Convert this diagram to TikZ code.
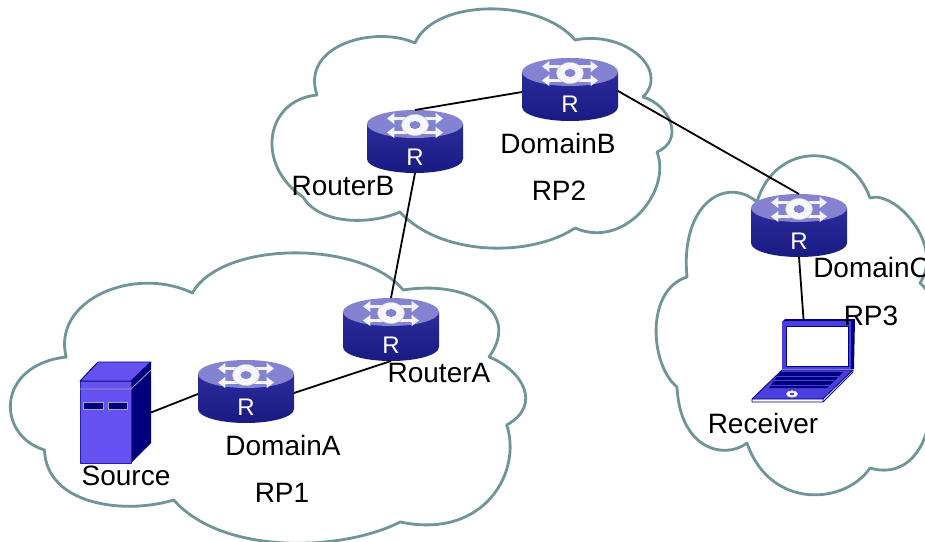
\documentclass[tikz,border=0pt]{standalone}
\usepackage{fontspec}
\setmainfont{Liberation Sans}
\usetikzlibrary{arrows.meta}
\definecolor{cloudc}{HTML}{6F9599}
\definecolor{rtop}{HTML}{8383D2}
\definecolor{rbodya}{HTML}{2C2C9C}
\definecolor{rbodyb}{HTML}{1A1A82}
\definecolor{srvf}{HTML}{6652F0}
\definecolor{srvd}{HTML}{00007E}
\definecolor{lapc}{HTML}{4A3EDC}
\tikzset{
  x=0.75pt,y=-0.75pt,
  cloudline/.style={draw=cloudc,line width=2.1pt,line join=round},
  link/.style={draw=black,line width=1.35pt},
  lbl/.style={inner sep=0pt,anchor=base,font=\fontsize{21}{24}\selectfont,text=black},
  boxnode/.style={inner sep=0pt,outer sep=0pt,minimum width=72pt,minimum height=47.25pt},
  rarrow/.style={draw=white!92!rtop,line width=1.8pt,{Triangle[length=5.5pt,width=8pt]}-{Triangle[length=5.5pt,width=8pt]}},
  edge1/.style={draw=srvd,line width=0.7pt,line join=round}
}
% name, x, top
\newcommand{\routerat}[3]{%
  \begin{scope}[shift={(#2,#3)}]
    \shade[top color=rbodya,bottom color=rbodyb] (-48,14) -- (-48,49)
       .. controls (-48,57) and (-26,63) .. (0,63)
       .. controls (26,63) and (48,57) .. (48,49) -- (48,14) -- cycle;
    \fill[rtop] (0,14) ellipse [x radius=48,y radius=14];
    \draw[rarrow] (-28,8.5) -- (28,8.5);
    \draw[rarrow] (-28,22.5) -- (28,22.5);
    \fill[white!94!rtop,draw=white!80!black,line width=0.4pt] (0,15) ellipse [x radius=13.5,y radius=10.5];
    \fill[rtop] (0,15) ellipse [x radius=5.5,y radius=4];
    \node[inner sep=0pt,anchor=base,text=white,font=\fontsize{18}{20}\selectfont] (#1-R) at (0,55) {R};
    \node[boxnode] (#1) at (0,31.5) {};
    \coordinate (#1-l) at (-48,34);
    \coordinate (#1-r) at (48,33);
  \end{scope}}
\begin{document}
\begin{tikzpicture}
\path[use as bounding box] (0,0) rectangle (925,542);
\clip (0,0) rectangle (925,542);
\fill[white] (0,0) rectangle (925,542);
% cloud 1
\begin{scope}[xscale=1.034]
\draw[cloudline] (186,293) .. controls (215,240) and (350,240) .. (390,290)
  .. controls (450,280) and (505,310) .. (473,357)
  .. controls (505,370) and (525,405) .. (490,425)
  .. controls (505,470) and (470,540) .. (387,522)
  .. controls (330,552) and (215,555) .. (168,500)
  .. controls (120,515) and (45,505) .. (43,450)
  .. controls (-4,435) and (-4,365) .. (64,357)
  .. controls (50,300) and (130,265) .. cycle;
\end{scope}
% cloud 2
\draw[cloudline] (415,43) .. controls (435,-2) and (540,-2) .. (575,40)
  .. controls (625,30) and (670,70) .. (643,97)
  .. controls (670,105) and (685,140) .. (657,152)
  .. controls (672,190) and (625,250) .. (575,228)
  .. controls (530,258) and (440,256) .. (400,212)
  .. controls (370,225) and (320,225) .. (303,197)
  .. controls (255,165) and (265,100) .. (317,95)
  .. controls (300,45) and (375,25) .. cycle;
% cloud 3
\draw[cloudline] (757,202) .. controls (775,141) and (850,141) .. (870,198)
  .. controls (895,190) and (945,245) .. (920,283)
  .. controls (940,300) and (950,350) .. (930,390)
  .. controls (935,440) and (910,480) .. (870,468)
  .. controls (845,505) and (770,510) .. (747,443)
  .. controls (725,460) and (680,450) .. (677,387)
  .. controls (650,365) and (645,290) .. (687,277)
  .. controls (680,205) and (725,175) .. cycle;
% placeholders for named devices
\node[inner sep=0pt,outer sep=0pt,minimum width=53.25pt,minimum height=75.75pt] (src) at (115.5,412.5) {};
\node[inner sep=0pt,outer sep=0pt,minimum width=77.25pt,minimum height=62.25pt] (lap) at (803.5,360.5) {};
% routers
\routerat{dA}{246}{360}
\routerat{rA}{391}{298}
\routerat{rB}{415}{110}
\routerat{dB}{570}{58}
\routerat{dC}{799}{194}
% connectors
\draw[link] (src.east) -- (dA-l);
\draw[link] (dA-r) -- (rA.south);
\draw[link] (rA.north) -- (rB.south);
\draw[link] (rB.north) -- (dB-l);
\draw[link] (dB-r) -- (dC.north);
\draw[link] (dC.south) -- (lap.north);
% server
\fill[srvf] (80,381) -- (98,362) -- (151,362) -- (131,381) -- cycle;
\draw[edge1] (80,381) -- (98,362) -- (151,362) -- (131,381) -- cycle;
\fill[srvd] (131,381) -- (151,362) -- (151,443) -- (131,463) -- cycle;
\fill[srvf] (80,381) rectangle (131,463);
\draw[edge1,draw=srvd!60!srvf] (80,381) rectangle (131,463);
\draw[gray!70,line width=0.6pt] (80,389) -- (131,389) -- (151,370);
\draw[fill=srvd,draw=gray!70,line width=0.5pt] (83,402) rectangle (103,409);
\draw[fill=srvd,draw=gray!70,line width=0.5pt] (108,402) rectangle (127,409);
% laptop
\fill[srvd] (782,322) -- (785,319) -- (855,319) -- (854,369) -- (782,369) -- cycle;
\fill[lapc] (782,322) -- (785,321) -- (851,321) -- (851,369) -- (782,369) -- cycle;
\fill[white] (786,326) rectangle (848,366);
\draw[srvd,line width=0.4pt] (786,326) rectangle (848,366);
\fill[lapc] (782,370) -- (853,370) -- (823,399) -- (752,399) -- cycle;
\draw[srvd,line width=0.6pt,line join=round] (782,370) -- (853,370) -- (823,399) -- (823,402) -- (752,402) -- (752,399) -- (782,370);
\draw[srvd,line width=0.6pt] (752,399) -- (823,399) (823,402) -- (853,372) -- (853,370);
\fill[srvd] (780,372) -- (843,372) -- (827,388) -- (769,388) -- cycle;
\draw[lapc,line width=0.6pt] (777,376) -- (839,376) (773,380.5) -- (834,380.5) (770,385) -- (830,385);
\draw[white!85!black,line width=0.5pt,fill=white] (792,394) ellipse [x radius=5.5,y radius=3.2];
\fill[lapc] (792,394) ellipse [x radius=2.2,y radius=1.2];
% labels
\node[lbl] (tdB) at (558,153) {DomainB};
\node[lbl] (trp2) at (559,200) {RP2};
\node[lbl] (trB) at (343,195) {RouterB};
\node[lbl] (tdA) at (283,455) {DomainA};
\node[lbl] (trp1) at (282,502) {RP1};
\node[lbl] (trA) at (439,382) {RouterA};
\node[lbl] (tsrc) at (126,485) {Source};
\node[lbl,anchor=base west] (tdC) at (813,277) {DomainC};
\node[lbl] (trp3) at (871,325) {RP3};
\node[lbl] (trecv) at (763,433) {Receiver};
\end{tikzpicture}
\end{document}
